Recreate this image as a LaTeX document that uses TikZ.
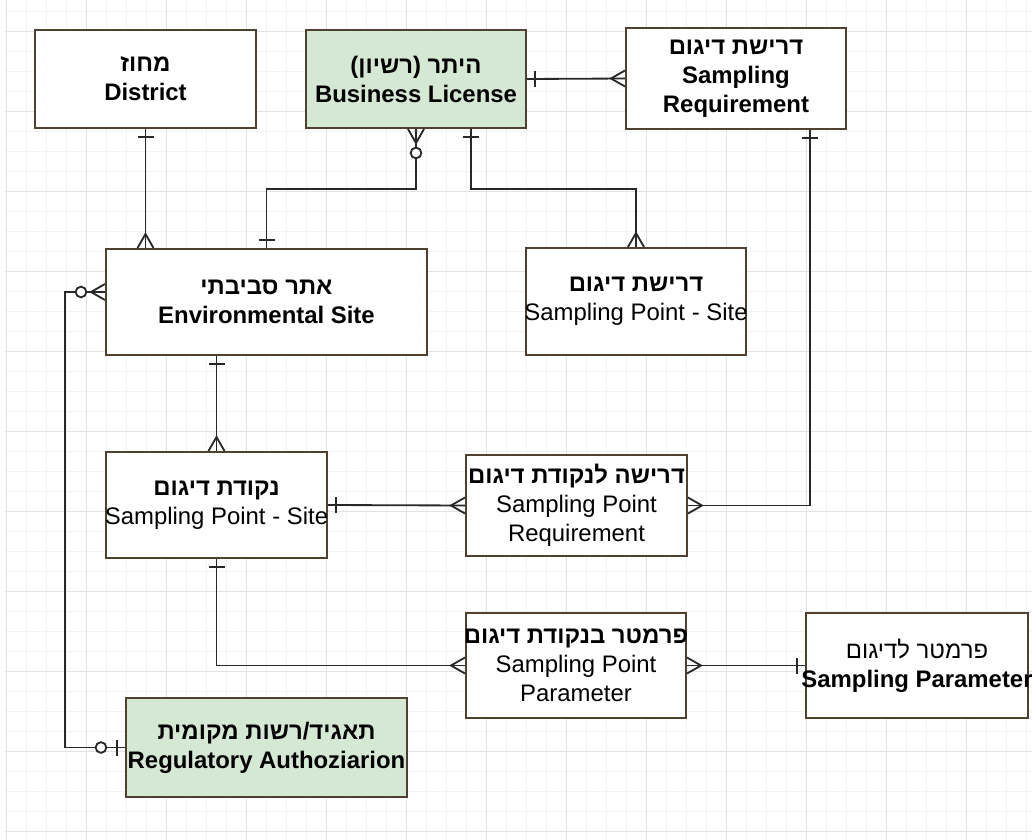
\documentclass[tikz,border=0pt]{standalone}
\usepackage{fontspec}
\setmainfont{Liberation Sans}
\newfontfamily\hebfont[Script=Hebrew]{Liberation Sans}
\TeXXeTstate=1
\usepackage{tikz}
\usetikzlibrary{calc}

\definecolor{edgebrown}{RGB}{80,64,48}
\definecolor{licgreen}{RGB}{213,232,212}
\definecolor{linegray}{RGB}{40,40,40}
\definecolor{gridmajor}{RGB}{226,226,226}
\definecolor{gridminor}{RGB}{243,243,243}

\newcommand{\heb}[1]{{\hebfont\bfseries\beginR #1\endR}}
\newcommand{\hebr}[1]{{\hebfont\beginR #1\endR}}
\newcommand{\wide}[1]{\makebox[0pt]{#1}}

\tikzset{
	entity/.style={draw=edgebrown, line width=1.4pt, fill=white, align=center, inner sep=0pt, font=\fontsize{17}{20.6}\selectfont},
	conn/.style={draw=linegray, line width=1.3pt},
	one/.pic={\draw[conn] (8,-8) -- (8,8);},
	many/.pic={\draw[conn] (0,-8) -- (14,0) -- (0,8);},
	zmany/.pic={\draw[conn] (0,-8) -- (14,0) -- (0,8);
		\draw[conn, fill=white] (24,0) circle[radius=3.8pt];},
	zone/.pic={\draw[conn] (8,-8) -- (8,8);
		\draw[conn, fill=white] (24,0) circle[radius=3.8pt];}
}

\begin{document}
\begin{tikzpicture}[x=0.025cm, y=-0.025cm]
		\useasboundingbox[fill=white] (0,0) rectangle (1032,840);
		% background grid
		\foreach \gx in {0,...,51} {\draw[gridminor, line width=0.6pt] ({6.7+20*\gx},0) -- ({6.7+20*\gx},840);}
		\foreach \gy in {0,...,41} {\draw[gridminor, line width=0.6pt] (5,{11.7+20*\gy}) -- (1032,{11.7+20*\gy});}
		\foreach \gx in {0,...,12} {\draw[gridmajor, line width=0.8pt] ({6.7+80*\gx},0) -- ({6.7+80*\gx},840);}
		\foreach \gy in {0,...,10} {\draw[gridmajor, line width=0.8pt] (5,{31.7+80*\gy}) -- (1032,{31.7+80*\gy});}

		% entities
		\node[entity, minimum width=5.525cm, minimum height=2.45cm] (dist) at (145.5,79) {\heb{מחוז}\\\textbf{District}};
		\node[entity, fill=licgreen, minimum width=5.5cm, minimum height=2.45cm] (bl) at (416,79) {\heb{היתר (רשיון)}\\\textbf{Business License}};
		\node[entity, minimum width=5.5cm, minimum height=2.525cm] (sreq) at (736,78.5) {\heb{דרישת דיגום}\\\textbf{Sampling}\\\textbf{Requirement}};
		\node[entity, minimum width=8.025cm, minimum height=2.65cm] (env) at (266.5,302) {\heb{אתר סביבתי}\\\textbf{Environmental Site}};
		\node[entity, minimum width=5.5cm, minimum height=2.675cm] (spsreq) at (636,301.5) {\heb{דרישת דיגום}\\\wide{Sampling Point - Site}};
		\node[entity, minimum width=5.525cm, minimum height=2.65cm] (sps) at (216.5,505) {\heb{נקודת דיגום}\\\wide{Sampling Point - Site}};
		\node[entity, minimum width=5.525cm, minimum height=2.525cm] (spr) at (576.5,505.5) {\wide{\heb{דרישה לנקודת דיגום}}\\Sampling Point\\Requirement};
		\node[entity, minimum width=5.5cm, minimum height=2.625cm] (spp) at (576,665.5) {\wide{\heb{פרמטר בנקודת דיגום}}\\Sampling Point\\Parameter};
		\node[entity, minimum width=5.55cm, minimum height=2.625cm] (spar) at (917,665.5) {\hebr{פרמטר לדיגום}\\\wide{\textbf{Sampling Parameter}}};
		\node[entity, fill=licgreen, minimum width=7.025cm, minimum height=2.475cm] (reg) at (266.5,747.5) {\heb{תאגיד/רשות מקומית}\\\wide{\textbf{Regulatory Authoziarion}}};

		% relations
		\draw[conn] (dist.south) -- (dist.south |- env.north);
		\draw[conn] (bl.south) -- ++(0,60) -| (env.north);
		\draw[conn] ($(bl.south)+(55,0)$) -- ++(0,60) -| (spsreq.north);
		\draw[conn] (bl.east) -- (sreq.west);
		\draw[conn] ($(sreq.south)+(74,0)$) |- (spr.east);
		\draw[conn] (sps.north |- env.south) -- (sps.north);
		\draw[conn] (sps.east) -- (spr.west);
		\draw[conn] (sps.south) |- (spp.west);
		\draw[conn] (spp.east) -- (spar.west);
		\draw[conn] ($(env.west)+(0,-10)$) -- ++(-40,0) |- (reg.west);

		% cardinality marks
		\pic[rotate=-90] at (dist.south) {one};
		\pic[rotate=90] at (dist.south |- env.north) {many};
		\pic[rotate=-90] at (bl.south) {zmany};
		\pic[rotate=90] at (env.north) {one};
		\pic[rotate=-90] at ($(bl.south)+(55,0)$) {one};
		\pic[rotate=90] at (spsreq.north) {many};
		\pic at (bl.east) {one};
		\pic[rotate=180] at (sreq.west) {many};
		\pic[rotate=-90] at ($(sreq.south)+(74,0)$) {one};
		\pic at (spr.east) {many};
		\pic[rotate=-90] at (sps.north |- env.south) {one};
		\pic[rotate=90] at (sps.north) {many};
		\pic at (sps.east) {one};
		\pic[rotate=180] at (spr.west) {many};
		\pic[rotate=-90] at (sps.south) {one};
		\pic[rotate=180] at (spp.west) {many};
		\pic at (spp.east) {many};
		\pic[rotate=180] at (spar.west) {one};
		\pic[rotate=180] at ($(env.west)+(0,-10)$) {zmany};
		\pic[rotate=180] at (reg.west) {zone};
\end{tikzpicture}
\end{document}
